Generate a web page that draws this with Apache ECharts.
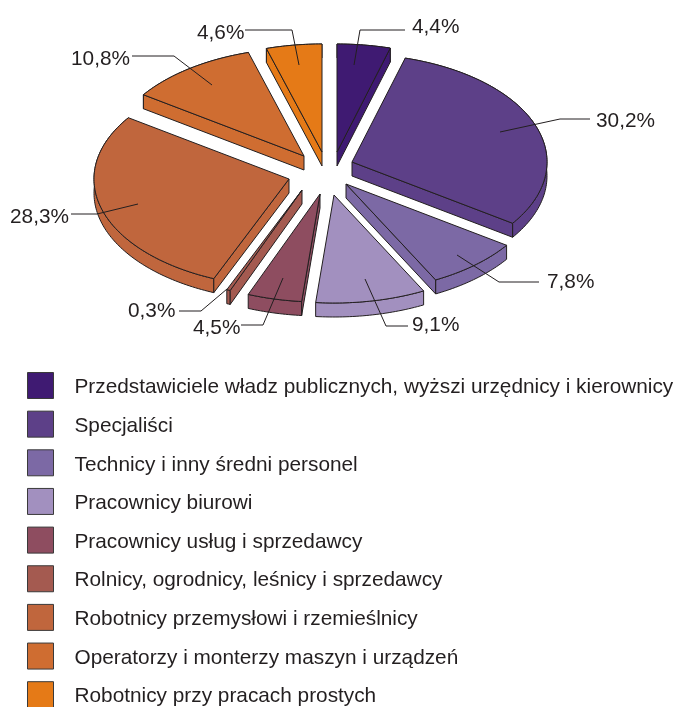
<!DOCTYPE html>
<html>
<head>
<meta charset="utf-8">
<style>html,body{margin:0;padding:0;background:#fff}#c{width:677px;height:707px}</style>
<script src="https://cdn.jsdelivr.net/npm/echarts@6/dist/echarts.min.js"></script>
</head>
<body>
<div id="c"></div>
<script>
const categories = [
  'Przedstawiciele władz publicznych, wyższi urzędnicy i kierownicy',
  'Specjaliści',
  'Technicy i inny średni personel',
  'Pracownicy biurowi',
  'Pracownicy usług i sprzedawcy',
  'Rolnicy, ogrodnicy, leśnicy i sprzedawcy',
  'Robotnicy przemysłowi i rzemieślnicy',
  'Operatorzy i monterzy maszyn i urządzeń',
  'Robotnicy przy pracach prostych'
];
const shares = [4.4, 30.2, 7.8, 9.1, 4.5, 0.3, 28.3, 10.8, 4.6];
const shareLabels = ['4,4%', '30,2%', '7,8%', '9,1%', '4,5%', '0,3%', '28,3%', '10,8%', '4,6%'];
const colors = ['#3f1a72', '#5d4088', '#7c69a5', '#a290bf', '#8e4d60', '#a45a50', '#c0663d', '#cf6d31', '#e57a17'];

// layout only: exploded slice apexes, leader lines, label anchors
const apexes = [[337,152],[352,162],[346,184],[334,195],[320,194],[302,190],[289,179],[304,156],[322,152]];
const leaders = [
  [[354,65],[360,30],[405,30]],
  [[500,132],[560,119],[590,119]],
  [[457,255],[499,282],[539,282]],
  [[365,279],[386,326],[408,326]],
  [[283,278],[263,325],[241,325]],
  [[227,289],[201,311],[179,311]],
  [[138,204],[97,214],[71,214]],
  [[212,85],[174,56],[132,56]],
  [[299,65],[292,30],[245,30]]
];
const labelAnchors = [[412,27],[596,121],[547,282],[412,325],[193,328],[128,311],[10,217],[71,59],[197,33]];
const RX = 195, RY = 108, DEPTH = 14;
const INK = '#231f20';
const FONT = '"Liberation Sans", Arial, sans-serif';

function renderSlice(i, api) {
  const share = api.value(0);
  let startPct = 0;
  for (let k = 0; k < i; k++) startPct += shares[k];
  const a0 = startPct * 3.6 * Math.PI / 180;
  const a1 = (startPct + share) * 3.6 * Math.PI / 180;
  const [cx, cy] = apexes[i];
  const at = a => [cx + RX * Math.sin(a), cy - RY * Math.cos(a)];
  const steps = Math.max(2, Math.ceil((a1 - a0) / (Math.PI / 180)));
  const arc = [];
  for (let s = 0; s <= steps; s++) arc.push(at(a0 + (a1 - a0) * s / steps));
  const drop = p => [p[0], p[1] + DEPTH];
  const style = { fill: colors[i], stroke: INK, lineWidth: 1, lineJoin: 'round' };
  const poly = pts => ({ type: 'polygon', silent: true, shape: { points: pts }, style: style });
  const first = arc[0], last = arc[arc.length - 1], apex = [cx, cy];
  const mid = at((a0 + a1) / 2);
  // a radial wall shows only when dropping its edge moves it away from the slice's interior
  const wallVisible = end => {
    const dx = end[0] - cx, dy = end[1] - cy;
    const interior = dx * (mid[1] - cy) - dy * (mid[0] - cx);
    const dropped = dx * DEPTH;
    return interior * dropped < 0;
  };
  const children = [poly(arc.concat(arc.slice().reverse().map(drop)))];
  if (wallVisible(first)) children.push(poly([apex, first, drop(first), drop(apex)]));
  if (wallVisible(last)) children.push(poly([apex, last, drop(last), drop(apex)]));
  children.push(
    poly([apex].concat(arc)),
    { type: 'polyline', silent: true, shape: { points: leaders[i] },
      style: { fill: null, stroke: INK, lineWidth: 1 } },
    { type: 'text', silent: true,
      style: { x: labelAnchors[i][0], y: labelAnchors[i][1], text: shareLabels[i],
        fill: INK, font: '20.8px ' + FONT,
        textAlign: 'left', textVerticalAlign: 'middle' } }
  );
  return { type: 'group', children: children };
}

const chart = echarts.init(document.getElementById('c'), null, { renderer: 'canvas' });
chart.setOption({
  animation: false,
  backgroundColor: '#fff',
  legend: {
    orient: 'vertical', left: 27, top: 372, height: 420, padding: 0, selectedMode: false,
    icon: 'rect', itemWidth: 26, itemHeight: 26, itemGap: 11.65,
    data: categories,
    itemStyle: { borderColor: '#3a3a3a', borderWidth: 1 },
    formatter: name => '{t|' + name + '}',
    textStyle: {
      color: INK, fontSize: 20.8, fontFamily: FONT,
      rich: { t: { color: INK, fontSize: 20.8, fontFamily: FONT, lineHeight: 22, padding: [4, 0, 0, 16] } }
    }
  },
  series: categories.map((name, i) => ({
    type: 'custom', name: name, coordinateSystem: 'none',
    itemStyle: { color: colors[i] },
    data: [[shares[i]]],
    renderItem: (params, api) => renderSlice(i, api)
  }))
});
</script>
</body>
</html>
